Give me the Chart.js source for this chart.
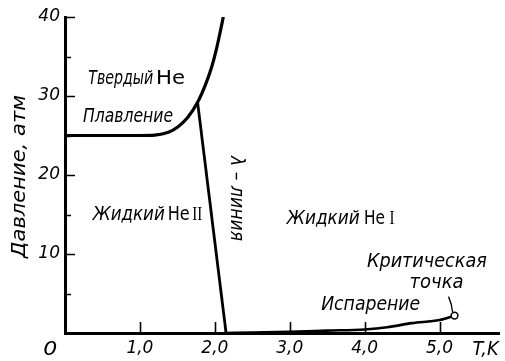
<!DOCTYPE html>
<html>
<head>
<meta charset="utf-8">
<script src="https://cdn.jsdelivr.net/npm/chart.js@4.4.1/dist/chart.umd.min.js"></script>
<style>
  html, body { margin: 0; padding: 0; background: #fff; }
  #wrap { width: 505px; height: 361px; position: relative; }
</style>
</head>
<body>
<div id="wrap"><canvas id="c"></canvas></div>
<script>
// Phase diagram of helium-4: melting curve, lambda line and vapour-pressure curve
const meltT = [0, 1.0, 1.2, 1.38, 1.51, 1.64, 1.77, 1.882, 1.959, 2.018, 2.067, 2.113];
const meltP = [25.0, 25.0, 25.05, 25.4, 26.1, 27.3, 29.2, 31.6, 33.7, 35.8, 37.9, 40.0];
const lambdaT = [1.77, 2.15];
const lambdaP = [29.2, 0];
const vapT = [2.15, 2.5, 3.0, 3.5, 4.0, 4.3, 4.63, 5.0, 5.2];
const vapP = [0.0, 0.05, 0.15, 0.3, 0.45, 0.72, 1.25, 1.65, 2.2];
const criticalT = [5.2];
const criticalP = [2.2];

const xTickValues = [1, 2, 3, 4, 5];
const xTickLabels = ['1,0', '2,0', '3,0', '4,0', '5,0'];
const yTickValues = [10, 20, 30, 40];
const yTickLabels = ['10', '20', '30', '40'];
const yMinorValues = [5, 15, 25, 35];

const toPoints = (xs, ys) => xs.map((v, i) => ({ x: v, y: ys[i] }));

const ITALIC = 'italic 19px "DejaVu Sans"';
const TITLE = 'italic 19px "DejaVu Sans"';
const UPRIGHT = '19px "DejaVu Sans"';
const ROMAN = '19px "Liberation Serif"';

// Text placed in data units (T, P) at its baseline start; w = drawn width in px
const notes = [
  { t: 0.31, p: 31.5, w: 65, text: 'Твердый', font: ITALIC },
  { t: 1.215, p: 31.5, w: 29, text: 'He', font: UPRIGHT },
  { t: 0.24, p: 26.7, w: 90, text: 'Плавление', font: ITALIC },
  { t: 0.37, p: 14.3, w: 72, text: 'Жидкий', font: ITALIC },
  { t: 1.37, p: 14.3, w: 22, text: 'He', font: UPRIGHT },
  { t: 1.70, p: 14.3, w: 10, text: 'II', font: ROMAN },
  { t: 2.96, p: 13.8, w: 73, text: 'Жидкий', font: ITALIC },
  { t: 3.99, p: 13.8, w: 21, text: 'He', font: UPRIGHT },
  { t: 4.33, p: 13.8, w: 5, text: 'I', font: ROMAN },
  { t: 4.03, p: 8.35, w: 120, text: 'Критическая', font: ITALIC },
  { t: 4.60, p: 5.7, w: 54, text: 'точка', font: ITALIC },
  { t: 3.42, p: 2.9, w: 99, text: 'Испарение', font: ITALIC },
  { t: 2.21, p: 22.4, w: 85, text: 'λ – линия', font: ITALIC, angle: Math.PI / 2 },
  { t: -0.54, p: 9.5, w: 163, text: 'Давление, атм', font: TITLE, angle: -Math.PI / 2 },
  { t: -0.29, p: -2.8, w: 14, text: '0', font: ITALIC },
  { t: 5.44, p: -2.8, w: 26, text: 'T,K', font: ITALIC }
];

const phaseDecor = {
  id: 'phaseDecor',
  afterDraw(chart) {
    const { ctx, scales: { x, y }, chartArea } = chart;
    const left = chartArea.left;
    const base = y.getPixelForValue(0);
    ctx.save();
    ctx.strokeStyle = '#000';
    ctx.lineWidth = 1.6;
    ctx.lineCap = 'butt';
    // inward tick marks
    ctx.beginPath();
    xTickValues.forEach(v => {
      const px = Math.round(x.getPixelForValue(v)) + 0.5;
      ctx.moveTo(px, base); ctx.lineTo(px, base - 11);
    });
    yTickValues.forEach(v => {
      const py = Math.round(y.getPixelForValue(v)) + 0.5;
      ctx.moveTo(left, py); ctx.lineTo(left + 10, py);
    });
    yMinorValues.forEach(v => {
      const py = Math.round(y.getPixelForValue(v)) + 0.5;
      ctx.moveTo(left, py); ctx.lineTo(left + 6, py);
    });
    ctx.stroke();

    // leader from the caption to the critical point
    const cx = x.getPixelForValue(criticalT[0]);
    const cy = y.getPixelForValue(criticalP[0]);
    ctx.lineWidth = 1.3;
    ctx.beginPath();
    ctx.moveTo(cx - 6, cy - 19);
    ctx.quadraticCurveTo(cx - 2.5, cy - 11, cx - 2, cy - 3.5);
    ctx.stroke();

    // captions
    ctx.fillStyle = '#000';
    ctx.textAlign = 'left';
    ctx.textBaseline = 'alphabetic';
    notes.forEach(n => {
      ctx.save();
      ctx.font = n.font;
      const m = ctx.measureText(n.text).width;
      ctx.translate(x.getPixelForValue(n.t), y.getPixelForValue(n.p));
      if (n.angle) ctx.rotate(n.angle);
      ctx.scale(n.w / m, 1);
      ctx.fillText(n.text, 0, 0);
      ctx.restore();
    });
    ctx.restore();
  }
};

Chart.defaults.font.family = '"DejaVu Sans"';
Chart.defaults.font.style = 'italic';
const tickFont = { family: '"DejaVu Sans"', size: 17, style: 'italic' };

new Chart(document.getElementById('c'), {
  type: 'scatter',
  data: {
    datasets: [
      {
        label: 'Критическая точка',
        data: toPoints(criticalT, criticalP),
        pointRadius: 3.4,
        pointBackgroundColor: '#fff',
        pointBorderColor: '#000',
        pointBorderWidth: 1.5,
        showLine: false
      },
      {
        label: 'Плавление',
        data: toPoints(meltT, meltP),
        showLine: true,
        borderColor: '#000',
        borderWidth: 3.2,
        pointRadius: 0,
        cubicInterpolationMode: 'monotone'
      },
      {
        label: 'λ-линия',
        data: toPoints(lambdaT, lambdaP),
        showLine: true,
        borderColor: '#000',
        borderWidth: 2.8,
        pointRadius: 0
      },
      {
        label: 'Испарение',
        data: toPoints(vapT, vapP),
        showLine: true,
        borderColor: '#000',
        borderWidth: 2.6,
        pointRadius: 0,
        cubicInterpolationMode: 'monotone'
      }
    ]
  },
  options: {
    responsive: true,
    maintainAspectRatio: false,
    animation: false,
    devicePixelRatio: 1,
    layout: { padding: { top: 17, right: 0, bottom: 0, left: 0 } },
    plugins: { legend: { display: false }, tooltip: { enabled: false } },
    scales: {
      x: {
        type: 'linear',
        min: 0,
        max: 5.8,
        afterBuildTicks: s => { s.ticks = xTickValues.map(v => ({ value: v })); },
        afterFit: s => { s.height = 28; },
        grid: { display: false, drawTicks: false },
        border: { display: true, color: '#000', width: 3 },
        ticks: {
          color: '#000',
          font: tickFont,
          padding: 5,
          maxRotation: 0,
          autoSkip: false,
          callback: (v, i) => xTickLabels[i] ?? ''
        }
      },
      y: {
        type: 'linear',
        min: 0,
        max: 40,
        afterBuildTicks: s => { s.ticks = yTickValues.map(v => ({ value: v })); },
        afterFit: s => { s.width = 65; },
        grid: { display: false, drawTicks: false },
        border: { display: true, color: '#000', width: 3 },
        ticks: {
          color: '#000',
          font: tickFont,
          padding: 5,
          autoSkip: false,
          callback: (v, i) => yTickLabels[i] ?? ''
        }
      }
    }
  },
  plugins: [phaseDecor]
});
</script>
</body>
</html>
